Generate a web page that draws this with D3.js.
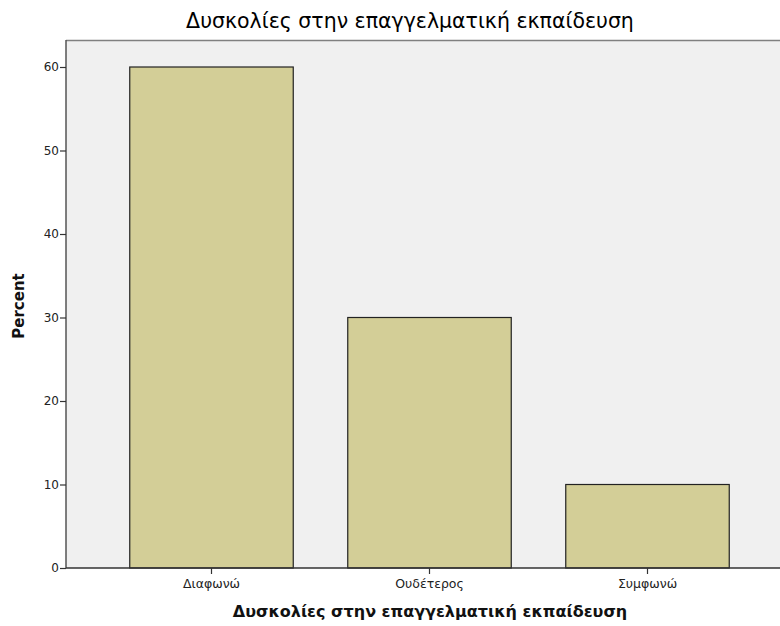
<!DOCTYPE html>
<html><head><meta charset="utf-8">
<script src="https://cdn.jsdelivr.net/npm/d3@7"></script>
<style>body{margin:0;background:#fff;}svg{display:block;font-family:"DejaVu Sans",sans-serif;}</style>
</head><body>
<svg id="c" width="780" height="626"></svg>
<script>
const categories = ["Διαφωνώ", "Ουδέτερος", "Συμφωνώ"];
const percents = [60, 30, 10];
const yTicks = [0, 10, 20, 30, 40, 50, 60];
const title = "Δυσκολίες στην επαγγελματική εκπαίδευση";
const xTitle = "Δυσκολίες στην επαγγελματική εκπαίδευση";
const yTitle = "Percent";

const svg = d3.select("#c");
const plot = {left: 66, top: 40, right: 790, bottom: 568};
const FONT = "DejaVu Sans, sans-serif";

svg.append("rect").attr("x", plot.left).attr("y", plot.top)
  .attr("width", plot.right - plot.left).attr("height", plot.bottom - plot.top)
  .attr("fill", "#f0f0f0");

const x = d3.scaleBand().domain(categories).range([102.5, 756.5]).paddingInner(0.25).paddingOuter(0.125);
const y = d3.scaleLinear().domain([0, 60]).range([plot.bottom, 67]);

svg.selectAll("rect.bar").data(categories).enter().append("rect")
  .attr("class", "bar")
  .attr("x", d => x(d))
  .attr("y", (d, i) => y(percents[i]))
  .attr("width", x.bandwidth())
  .attr("height", (d, i) => plot.bottom - y(percents[i]))
  .attr("fill", "#d3ce97").attr("stroke", "#222").attr("stroke-width", 1.2);

// top border
svg.append("line").attr("x1", plot.left).attr("x2", plot.right).attr("y1", plot.top + 0.5).attr("y2", plot.top + 0.5)
  .attr("stroke", "#808080").attr("stroke-width", 1.5);

// y axis
const ya = svg.append("g").attr("transform", `translate(${plot.left},0)`)
  .call(d3.axisLeft(y).tickValues(yTicks).tickSize(6).tickPadding(1).tickFormat(d3.format("d")));
ya.select(".domain").attr("stroke", "#555").attr("stroke-width", 1.5).attr("d", `M0,${plot.top}V${plot.bottom}`);
ya.selectAll(".tick line").attr("stroke", "#333").attr("stroke-width", 1.2);
ya.selectAll(".tick text").attr("font-size", 12).attr("fill", "#222").attr("font-family", FONT);

// x axis
const xa = svg.append("g").attr("transform", `translate(0,${plot.bottom})`)
  .call(d3.axisBottom(x).tickSize(6).tickPadding(5));
xa.select(".domain").attr("stroke", "#333").attr("stroke-width", 1.5).attr("d", `M${plot.left},0H${plot.right}`);
xa.selectAll(".tick line").attr("stroke", "#333").attr("stroke-width", 1.2);
xa.selectAll(".tick text").attr("font-size", 12.5).attr("fill", "#222").attr("font-family", FONT);

svg.append("text").attr("x", 410).attr("y", 28).attr("text-anchor", "middle")
  .attr("font-size", 20.5).attr("fill", "#000").attr("font-family", FONT).text(title);
svg.append("text").attr("x", 430).attr("y", 617).attr("text-anchor", "middle")
  .attr("font-size", 16).attr("font-weight", "bold").attr("fill", "#111").attr("font-family", FONT).text(xTitle);
svg.append("text").attr("transform", "translate(24,306) rotate(-90)").attr("text-anchor", "middle")
  .attr("font-size", 15).attr("font-weight", "bold").attr("fill", "#111").attr("font-family", FONT).text(yTitle);
</script>
</body></html>
